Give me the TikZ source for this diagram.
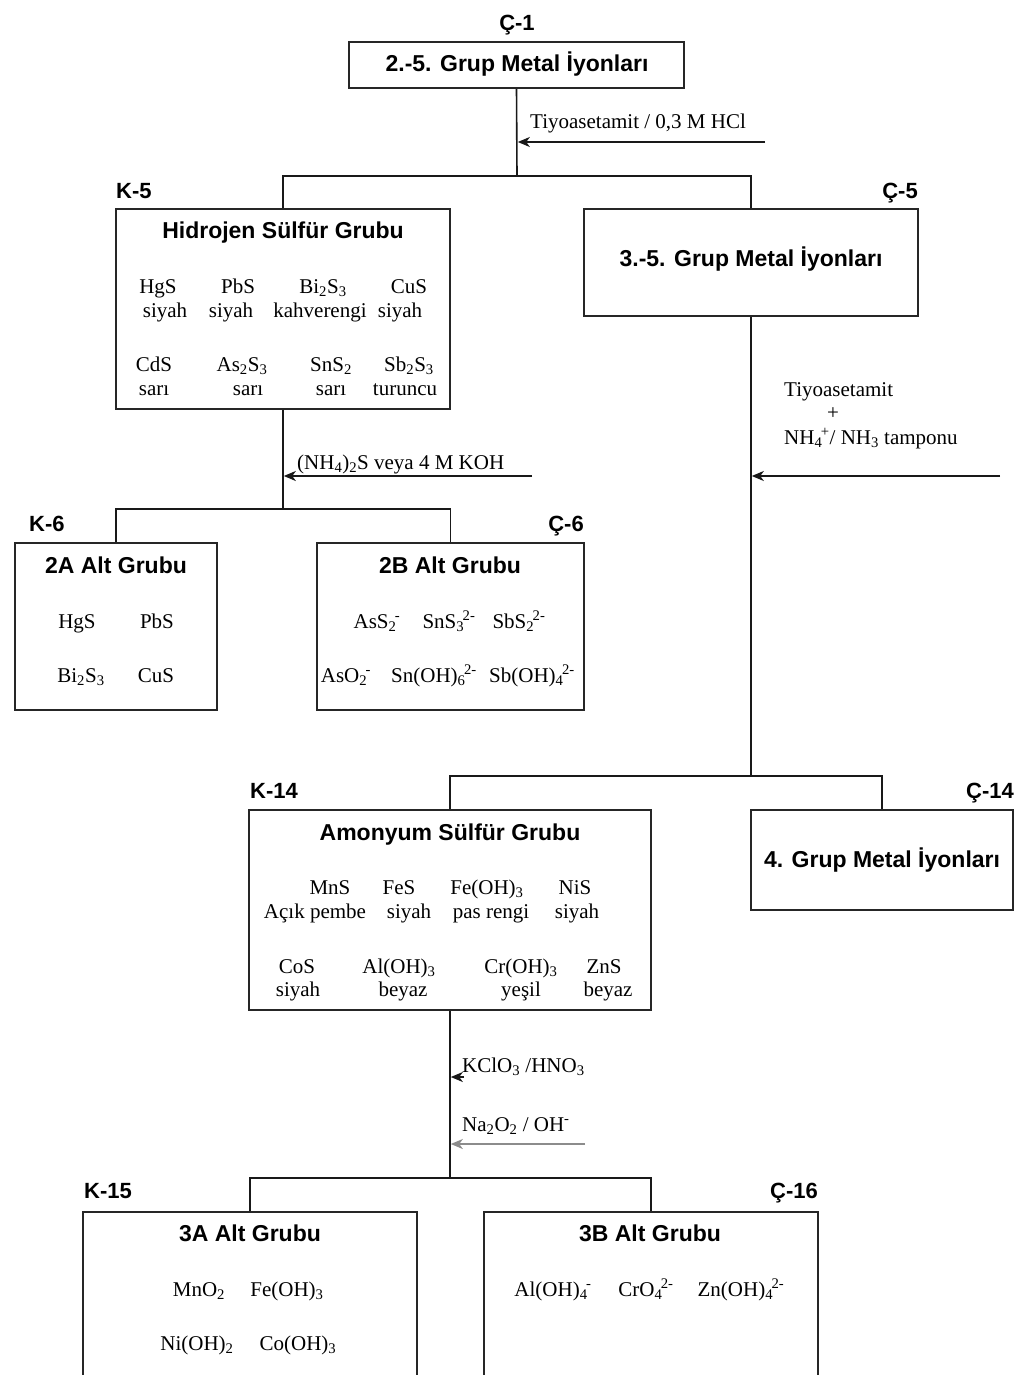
\documentclass[tikz,border=0pt]{standalone}
\usepackage{fontspec}
\setmainfont{Liberation Serif}
\newfontfamily\hv{Liberation Sans}
\usetikzlibrary{arrows.meta}
\newcommand\sbs[1]{\textsubscript{#1}}
\newcommand\sps[1]{\textsuperscript{#1}}
\newcommand\ionsp[2]{\textsubscript{#1}\kern-1.5pt\textsuperscript{#2}}
\tikzset{
 box/.style={draw=black!85, line width=1.6pt, inner sep=0pt},
 ttl/.style={font=\hv\bfseries\fontsize{23}{27}\selectfont, inner sep=0pt, anchor=base},
 tag/.style={font=\hv\bfseries\fontsize{22}{26}\selectfont, inner sep=0pt},
 chem/.style={font=\fontsize{21}{24}\selectfont, inner sep=0pt, anchor=base},
 reag/.style={font=\fontsize{21}{24}\selectfont, inner sep=0pt, anchor=base west},
 conn/.style={line width=1.6pt, draw=black!90},
 arr/.style={conn, -{Stealth[length=12pt,width=10pt,inset=3.5pt]}, shorten >=0.8pt},
}
\begin{document}
\begin{tikzpicture}[x=1pt,y=-1pt]
\useasboundingbox (0,0) rectangle (1015,1375);
\fill[white] (0,0) rectangle (1015,1375);
\clip (0,0) rectangle (1015,1375);

% ---------- boxes ----------
\node[box, minimum width=335pt, minimum height=46pt] (c1) at (516.5,65) {};
\node[box, minimum width=334pt, minimum height=200pt] (k5) at (283,309) {};
\node[box, minimum width=334pt, minimum height=107pt] (c5) at (751,262.5) {};
\node[box, minimum width=202pt, minimum height=167pt] (k6) at (116,626.5) {};
\node[box, minimum width=267pt, minimum height=167pt] (c6) at (450.5,626.5) {};
\node[box, minimum width=402pt, minimum height=200pt] (k14) at (450,910) {};
\node[box, minimum width=262pt, minimum height=100pt] (c14) at (882,860) {};
\node[box, minimum width=334pt, minimum height=220pt] (k15) at (250,1322) {};
\node[box, minimum width=334pt, minimum height=220pt] (c16) at (651,1322) {};

% ---------- tags ----------
\node[tag, anchor=base] (tc1) at (517,31) {Ç-1};
\node[tag, anchor=base west] (tk5) at (116,198) {K-5};
\node[tag, anchor=base east] (tc5) at (918,198) {Ç-5};
\node[tag, anchor=base west] (tk6) at (29,531) {K-6};
\node[tag, anchor=base east] (tc6) at (584,531) {Ç-6};
\node[tag, anchor=base west] (tk14) at (250,798) {K-14};
\node[tag, anchor=base east] (tc14) at (1014,798) {Ç-14};
\node[tag, anchor=base west] (tk15) at (84,1198) {K-15};
\node[tag, anchor=base east] (tc16) at (818,1198) {Ç-16};

% ---------- titles ----------
\node[ttl] (h1) at (517,72) {2.-5. Grup Metal İyonları};
\node[ttl] (h5) at (283,238) {Hidrojen Sülfür Grubu};
\node[ttl] (hc5) at (751,266) {3.-5. Grup Metal İyonları};
\node[ttl] (h6) at (116,573) {2A Alt Grubu};
\node[ttl] (hc6) at (450,573) {2B Alt Grubu};
\node[ttl] (h14) at (450,840) {Amonyum Sülfür Grubu};
\node[ttl] (hc14) at (882,867) {4. Grup Metal İyonları};
\node[ttl] (h15) at (250,1241) {3A Alt Grubu};
\node[ttl] (hc16) at (650,1241) {3B Alt Grubu};

% ---------- K-5 contents ----------
\node[chem] (a1) at (158,293) {HgS};
\node[chem] (a2) at (238,293) {PbS};
\node[chem] (a3) at (323,293) {Bi\sbs{2}S\sbs{3}};
\node[chem] (a4) at (409,293) {CuS};
\node[chem] (b1) at (165,317) {siyah};
\node[chem] (b2) at (231,317) {siyah};
\node[chem] (b3) at (320,317) {kahverengi};
\node[chem] (b4) at (400,317) {siyah};
\node[chem] (a5) at (154,371) {CdS};
\node[chem] (a6) at (242,371) {As\sbs{2}S\sbs{3}};
\node[chem] (a7) at (331,371) {SnS\sbs{2}};
\node[chem] (a8) at (409,371) {Sb\sbs{2}S\sbs{3}};
\node[chem] (b5) at (154,395) {sarı};
\node[chem] (b6) at (248,395) {sarı};
\node[chem] (b7) at (331,395) {sarı};
\node[chem] (b8) at (405,395) {turuncu};

% ---------- 2A contents ----------
\node[chem] (d1) at (77,628) {HgS};
\node[chem] (d2) at (157,628) {PbS};
\node[chem] (d3) at (81,682) {Bi\sbs{2}S\sbs{3}};
\node[chem] (d4) at (156,682) {CuS};

% ---------- 2B contents ----------
\node[chem] (e1) at (377,628) {AsS\ionsp{2}{-}};
\node[chem] (e2) at (449,628) {SnS\ionsp{3}{2-}};
\node[chem] (e3) at (519,628) {SbS\ionsp{2}{2-}};
\node[chem] (e4) at (346,682) {AsO\ionsp{2}{-}};
\node[chem] (e5) at (434,682) {Sn(OH)\ionsp{6}{2-}};
\node[chem] (e6) at (532,682) {Sb(OH)\ionsp{4}{2-}};

% ---------- K-14 contents ----------
\node[chem] (f1) at (330,894) {MnS};
\node[chem] (f2) at (399,894) {FeS};
\node[chem] (f3) at (487,894) {Fe(OH)\sbs{3}};
\node[chem] (f4) at (575,894) {NiS};
\node[chem] (g1) at (315,918) {Açık pembe};
\node[chem] (g2) at (409,918) {siyah};
\node[chem] (g3) at (491,918) {pas rengi};
\node[chem] (g4) at (577,918) {siyah};
\node[chem] (f5) at (297,973) {CoS};
\node[chem] (f6) at (399,973) {Al(OH)\sbs{3}};
\node[chem] (f7) at (521,973) {Cr(OH)\sbs{3}};
\node[chem] (f8) at (604,973) {ZnS};
\node[chem] (g5) at (298,996) {siyah};
\node[chem] (g6) at (403,996) {beyaz};
\node[chem] (g7) at (521,996) {yeşil};
\node[chem] (g8) at (608,996) {beyaz};

% ---------- 3A / 3B contents ----------
\node[chem] (m1) at (199,1296) {MnO\sbs{2}};
\node[chem] (m2) at (287,1296) {Fe(OH)\sbs{3}};
\node[chem] (m3) at (197,1350) {Ni(OH)\sbs{2}};
\node[chem] (m4) at (298,1350) {Co(OH)\sbs{3}};
\node[chem] (n1) at (553,1296) {Al(OH)\ionsp{4}{-}};
\node[chem] (n2) at (646,1296) {CrO\ionsp{4}{2-}};
\node[chem] (n3) at (741,1296) {Zn(OH)\ionsp{4}{2-}};

% ---------- reagents ----------
\node[reag] (r1) at (530,129) {Tiyoasetamit / 0,3 M HCl};
\node[reag] (r2) at (297,469) {(NH\sbs{4})\sbs{2}S veya 4 M KOH};
\node[reag] (r3a) at (784,396) {Tiyoasetamit};
\node[chem, anchor=center] (r3b) at (833,414) {+};
\node[reag] (r3c) at (784,444) {NH\ionsp{4}{+}/ NH\sbs{3} tamponu};
\node[reag] (r4) at (462,1072) {KClO\sbs{3} /HNO\sbs{3}};
\node[reag] (r5) at (462,1131) {Na\sbs{2}O\sbs{2} / OH\sps{-}};

% ---------- connectors ----------
\coordinate (s1) at (517,176);
\coordinate (s2) at (283,509);
\coordinate (s3) at (751,776);
\coordinate (s4) at (450,1178);
\draw[conn] (c1.south) -- (s1);
\draw[conn] (k5.north) |- (s1) -| (c5.north);
\draw[conn] (k5.south) -- (s2);
\draw[conn] (k6.north) |- (s2) -| (c6.north);
\draw[conn] (c5.south) -- (s3);
\draw[conn] (k14.north) |- (s3) -| (c14.north);
\draw[conn] (k14.south) -- (s4);
\draw[conn] (k15.north) |- (s4) -| (c16.north);

\coordinate (p1) at (765,142);
\coordinate (p2) at (532,476);
\coordinate (p3) at (1000,476);
\coordinate (p4) at (464,1077);
\coordinate (p5) at (585,1144);
\draw[arr] (p1) -- (p1 -| s1);
\draw[arr] (p2) -- (p2 -| s2);
\draw[arr] (p3) -- (p3 -| s3);
\draw[arr] (p4) -- (p4 -| s4);
\draw[arr, draw=black!45] (p5) -- (p5 -| s4);
\end{tikzpicture}
\end{document}
